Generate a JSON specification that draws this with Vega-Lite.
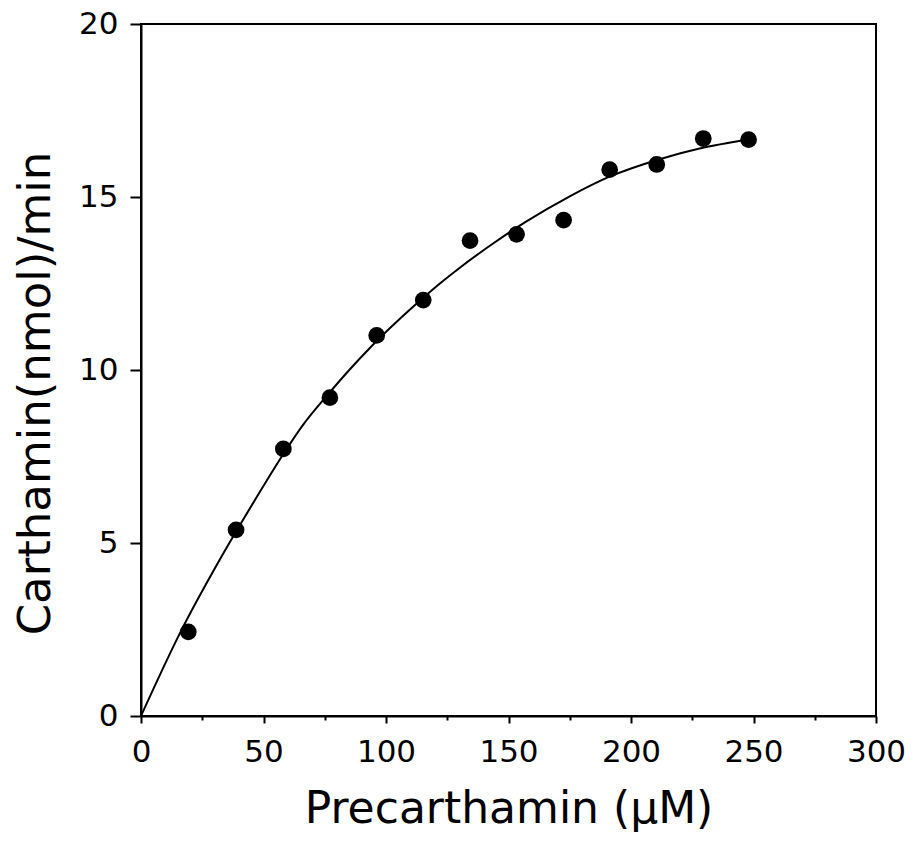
{
  "$schema": "https://vega.github.io/schema/vega-lite/v6.json",
  "autosize": "none",
  "width": 735,
  "height": 692,
  "padding": {"left": 141, "top": 24, "right": 37, "bottom": 126},
  "background": "white",
  "config": {
    "font": "DejaVu Sans",
    "view": {"stroke": "black", "strokeWidth": 2},
    "axis": {
      "grid": false,
      "domainColor": "black",
      "domainWidth": 2,
      "tickColor": "black",
      "tickWidth": 2,
      "labelColor": "black",
      "titleColor": "black",
      "labelFont": "DejaVu Sans",
      "titleFont": "DejaVu Sans",
      "titleFontWeight": "normal",
      "labelFontSize": 31,
      "labelFlush": false,
      "labelOverlap": false
    }
  },
  "datasets": {
    "measured": [
      {"substrate": 19.3, "rate": 2.43},
      {"substrate": 38.8, "rate": 5.38},
      {"substrate": 58.1, "rate": 7.72},
      {"substrate": 77.1, "rate": 9.2},
      {"substrate": 96.2, "rate": 11.0},
      {"substrate": 115.2, "rate": 12.02},
      {"substrate": 134.3, "rate": 13.74},
      {"substrate": 153.3, "rate": 13.92},
      {"substrate": 172.5, "rate": 14.33},
      {"substrate": 191.3, "rate": 15.79},
      {"substrate": 210.5, "rate": 15.94},
      {"substrate": 229.5, "rate": 16.69},
      {"substrate": 248.0, "rate": 16.66}
    ],
    "fit": [
      {"substrate": 0, "rate": 0},
      {"substrate": 16, "rate": 2.41},
      {"substrate": 32, "rate": 4.5},
      {"substrate": 47, "rate": 6.3},
      {"substrate": 57, "rate": 7.45},
      {"substrate": 66, "rate": 8.4},
      {"substrate": 77, "rate": 9.35},
      {"substrate": 85, "rate": 10.0},
      {"substrate": 94, "rate": 10.68},
      {"substrate": 106, "rate": 11.5},
      {"substrate": 113, "rate": 11.95},
      {"substrate": 122, "rate": 12.5},
      {"substrate": 130, "rate": 12.95},
      {"substrate": 144, "rate": 13.67},
      {"substrate": 157, "rate": 14.28},
      {"substrate": 175, "rate": 15.02},
      {"substrate": 191, "rate": 15.58},
      {"substrate": 212, "rate": 16.1},
      {"substrate": 228, "rate": 16.4},
      {"substrate": 248, "rate": 16.66}
    ]
  },
  "encoding": {
    "x": {
      "field": "substrate",
      "type": "quantitative",
      "scale": {"domain": [0, 300], "nice": false, "zero": false},
      "axis": {
        "title": "Precarthamin (μM)",
        "titleFontSize": 44,
        "values": [0, 25, 50, 75, 100, 125, 150, 175, 200, 225, 250, 275, 300],
        "labelExpr": "datum.value % 50 === 0 ? datum.label : ''",
        "tickSize": {"condition": {"test": "datum.value % 50 !== 0", "value": 4}, "value": 7},
        "labelPadding": 14,
        "titlePadding": 20
      }
    },
    "y": {
      "field": "rate",
      "type": "quantitative",
      "scale": {"domain": [0, 20], "nice": false},
      "axis": {
        "title": "Carthamin(nmol)/min",
        "titleFontSize": 45,
        "titleY": 369,
        "values": [0, 5, 10, 15, 20],
        "tickSize": 11,
        "labelPadding": 12,
        "titlePadding": 20
      }
    }
  },
  "layer": [
    {
      "data": {"name": "fit"},
      "mark": {"type": "line", "color": "black", "strokeWidth": 2, "interpolate": "monotone"}
    },
    {
      "data": {"name": "measured"},
      "mark": {"type": "point", "shape": "circle", "filled": true, "color": "black", "opacity": 1, "size": 280}
    }
  ]
}
